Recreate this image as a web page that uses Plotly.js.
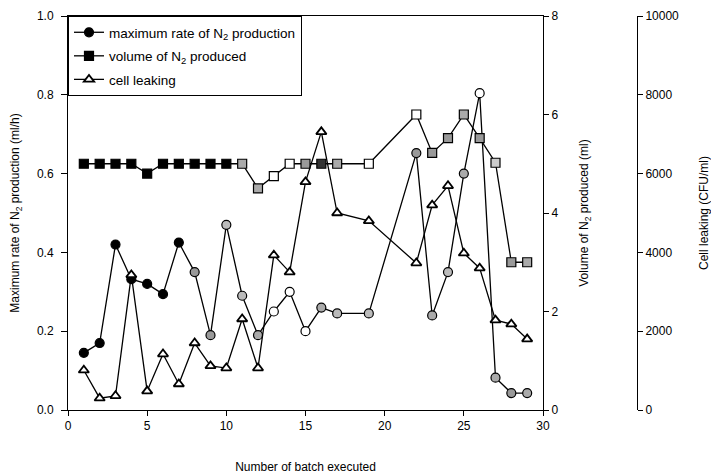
<!DOCTYPE html>
<html><head><meta charset="utf-8">
<script src="https://cdn.plot.ly/plotly-3.0.1.min.js"></script>
<style>body{margin:0;background:#fff}#c{width:711px;height:476px}</style>
</head><body><div id="c"></div>
<script>
const rateX = [1,2,3,4,5,6,7,8,9,10,11,12,13,14,15,16,17,19,22,23,24,25,26,27,28,29];
const rateY = [0.145,0.17,0.42,0.332,0.32,0.294,0.425,0.35,0.19,0.47,0.29,0.19,0.25,0.30,0.20,0.26,0.245,0.245,0.652,0.24,0.35,0.60,0.804,0.082,0.043,0.043];
const rateFill = ['#000','#000','#000','#000','#000','#000','#000','#999','#999','#bbb','#bbb','#aaa','#fff','#fff','#fff','#aaa','#bbb','#bbb','#999','#aaa','#bbb','#aaa','#fff','#aaa','#999','#aaa'];

const volX = [1,2,3,4,5,6,7,8,9,10,11,12,13,14,15,16,17,19,22,23,24,25,26,27,28,29];
const volY = [5,5,5,5,4.8,5,5,5,5,5,5,4.5,4.75,5,5,5,5,5,6,5.22,5.52,6,5.52,5.02,3,3];
const volFill = ['#000','#000','#000','#000','#000','#000','#000','#000','#000','#000','#aaa','#aaa','#fff','#fff','#999','#333','#aaa','#fff','#fff','#999','#999','#aaa','#999','#ccc','#999','#aaa'];

const leakX = [1,2,3,4,5,6,7,8,9,10,11,12,13,14,15,16,17,19,22,23,24,25,26,27,28,29];
const leakY = [1010,300,360,3430,480,1420,660,1700,1120,1065,2310,1065,3930,3500,5790,7060,5000,4800,3730,5200,5690,3980,3600,2280,2180,1800];

const ff = 'Liberation Sans, Arial, sans-serif';
const traces = [
  {x: rateX, y: rateY, name: 'maximum rate of N<sub>2</sub> production', mode: 'lines+markers', yaxis: 'y', legendgroup: 'a',
   line: {color: '#000', width: 1.3}, marker: {symbol: 'circle', size: 9, color: rateFill, line: {color: '#000', width: 1.2}}},
  {x: volX, y: volY, name: 'volume of N<sub>2</sub> produced', mode: 'lines+markers', yaxis: 'y2', legendgroup: 'b',
   line: {color: '#000', width: 1.3}, marker: {symbol: 'square', size: 9, color: volFill, line: {color: '#000', width: 1.2}}},
  {x: leakX, y: leakY, name: 'cell leaking', mode: 'lines+markers', yaxis: 'y3', legendgroup: 'c',
   line: {color: '#000', width: 1.3}, marker: {symbol: 'triangle-up', size: 9, color: '#fff', line: {color: '#000', width: 1.8}}}
];
const W = 633, plotW = 475;
const layout = {
  width: 711, height: 476,
  margin: {l: 68, r: 10, t: 16, b: 66},
  paper_bgcolor: '#fff', plot_bgcolor: '#fff',
  font: {family: ff, size: 12, color: '#000'},
  showlegend: true,
  legend: {x: 0, y: 1, xanchor: 'left', yanchor: 'top', bordercolor: '#000', borderwidth: 1, bgcolor: '#fff',
           font: {family: ff, size: 13.5}, tracegroupgap: 3, itemwidth: 30},
  xaxis: {domain: [0, plotW / W], range: [0, 30], dtick: 5, tick0: 0, showgrid: false, zeroline: false,
          showline: true, linecolor: '#000', linewidth: 1, mirror: true, ticks: 'outside', ticklen: 5, tickcolor: '#000',
          title: {text: 'Number of batch executed', font: {size: 12}, standoff: 30}},
  yaxis: {range: [0, 1], dtick: 0.2, tickformat: '.1f', showgrid: false, zeroline: false,
          showline: true, linecolor: '#000', linewidth: 1, ticks: 'outside', ticklen: 6, tickcolor: '#000',
          ticklabelstandoff: 5,
          title: {text: 'Maximum rate of N<sub>2</sub> production (ml/h)', font: {size: 12}, standoff: 14}},
  yaxis2: {overlaying: 'y', side: 'right', anchor: 'x', range: [0, 8], dtick: 2, showgrid: false, zeroline: false,
          showline: true, linecolor: '#000', linewidth: 1, ticks: 'outside', ticklen: 5, tickcolor: '#000',
          title: {text: 'Volume of N<sub>2</sub> produced (ml)', font: {size: 12}, standoff: 22}},
  yaxis3: {overlaying: 'y', side: 'right', anchor: 'free', position: (637 - 68) / W, range: [0, 10000], dtick: 2000,
          tickformat: 'd', showgrid: false, zeroline: false, showline: true, linecolor: '#000', linewidth: 1,
          ticks: 'outside', ticklen: 5, tickcolor: '#000',
          title: {text: 'Cell leaking (CFU/ml)', font: {size: 12}, standoff: 23}}
};
Plotly.newPlot('c', traces, layout, {displayModeBar: false});
</script></body></html>
